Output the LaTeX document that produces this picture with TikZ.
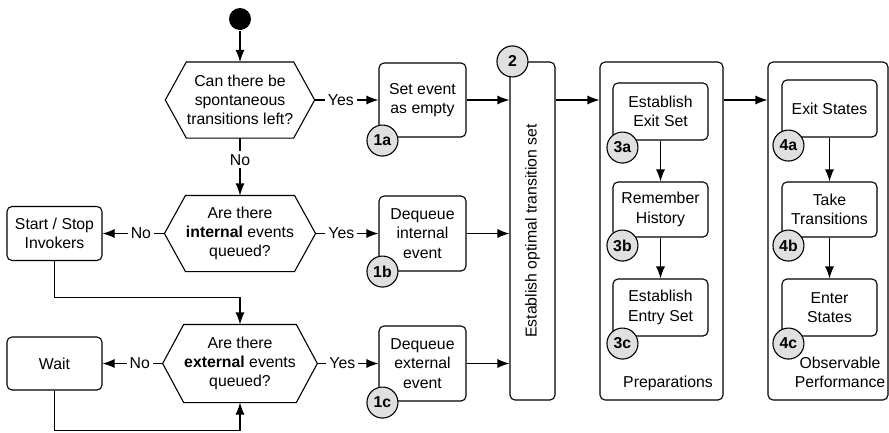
\documentclass[tikz,border=0pt]{standalone}
\usepackage{fontspec}
\setmainfont{Liberation Sans}
\usetikzlibrary{arrows.meta}

% hexagonal decision drawn round a plain text node
\newcommand{\hexq}[1]{%
  \coordinate (#1w) at ([xshift=-21pt]#1.west);
  \coordinate (#1e) at ([xshift=21pt]#1.east);
  \draw (#1w) -- (#1.north west) -- (#1.north east) -- (#1e)
    -- (#1.south east) -- (#1.south west) -- cycle;}

\begin{document}
\begin{tikzpicture}[x=1pt,y=-1pt,line width=1.1pt,
  font=\fontsize{15.8}{19.3}\selectfont,
  >={Latex[length=12pt,width=9pt]},
  q/.style={inner sep=0pt,minimum width=104pt,minimum height=75pt,align=center},
  act/.style={draw,rounded corners=5pt,inner sep=0pt,align=center},
  num/.style={circle,draw,fill=black!12,minimum size=31pt,inner sep=0pt,
    font=\fontsize{15.8}{19.3}\selectfont\bfseries},
  lab/.style={fill=white,inner sep=3pt}]
  \useasboundingbox (0,0) rectangle (889,432);
  % start and the three questions
  \node[circle,fill,minimum size=22pt,inner sep=0pt] (init) at (240,19) {};
  \node[q] (q1) at (240,100) {Can there be\\spontaneous\\transitions left?};
  \node[q] (q2) at (240,233.5) {Are there\\\textbf{internal} events\\queued?};
  \node[q,minimum height=77pt] (q3) at (240,363.5) {Are there\\\textbf{external} events\\queued?};
  \hexq{q1}
  \hexq{q2}
  \hexq{q3}
  % left side
  \node[act,minimum width=95pt,minimum height=54pt] (ss) at (54.5,233.5) {Start / Stop\\Invokers};
  \node[act,minimum width=95pt,minimum height=53pt] (wait) at (54.5,363.5) {Wait};
  % step 1
  \node[act,minimum width=87pt,minimum height=74pt] (a1) at (422.5,100) {Set event\\as empty};
  \node[act,minimum width=87pt,minimum height=75pt] (a2) at (422.5,233.5) {Dequeue\\internal\\event};
  \node[act,minimum width=87pt,minimum height=75pt] (a3) at (422.5,363.5) {Dequeue\\external\\event};
  % step 2
  \node[act,minimum width=45pt,minimum height=338pt] (t) at (532.5,231) {};
  \node[rotate=90] (ttext) at (t.center) {Establish optimal transition set};
  % step 3
  \node[act,minimum width=123pt,minimum height=338pt] (prep) at (661.5,231) {};
  \node[act,minimum width=95pt,minimum height=57pt] (p3a) at (660.5,111.5) {Establish\\Exit Set};
  \node[act,minimum width=95pt,minimum height=55pt] (p3b) at (660.5,209.5) {Remember\\History};
  \node[act,minimum width=95pt,minimum height=57pt] (p3c) at (660.5,307.5) {Establish\\Entry Set};
  \node (preptext) at (668,383) {Preparations};
  % step 4
  \node[act,minimum width=120pt,minimum height=338pt] (perf) at (828,231) {};
  \node[act,minimum width=95pt,minimum height=57pt] (p4a) at (829.5,108.5) {Exit States};
  \node[act,minimum width=95pt,minimum height=55pt] (p4b) at (829.5,209.5) {Take\\Transitions};
  \node[act,minimum width=95pt,minimum height=57pt] (p4c) at (829.5,307.5) {Enter\\States};
  \node[align=center] (perftext) at (840,372) {Observable\\Performance};
  % connectors
  \draw[->] (init) -- (q1.north);
  \draw[->] (q1.south) -- node[lab,pos=0.38] {No} (q2.north);
  \draw[->] (q1e) -- node[lab,pos=0.41] {Yes} (a1.west);
  \draw[->] (q2e) -- node[lab,pos=0.41] {Yes} (a2.west);
  \draw[->] (q3e) -- node[lab,pos=0.41] {Yes} (a3.west);
  \draw[->] (q2w) -- node[lab,pos=0.38] {No} (ss.east);
  \draw[->] (q3w) -- node[lab,pos=0.38] {No} (wait.east);
  \draw[->] (ss.south) -- ++(0,36) -| (q3.north);
  \draw[->] (wait.south) -- ++(0,40) -| (q3.south);
  \draw[->] (a1.east) -- (a1.east -| t.west);
  \draw[->] (a2.east) -- (a2.east -| t.west);
  \draw[->] (a3.east) -- (a3.east -| t.west);
  \draw[->] (t.east |- a1.east) -- (prep.west |- a1.east);
  \draw[->] (prep.east |- a1.east) -- (perf.west |- a1.east);
  \draw[->] (p3a) -- (p3b);
  \draw[->] (p3b) -- (p3c);
  \draw[->] (p4a) -- (p4b);
  \draw[->] (p4b) -- (p4c);
  % step numbers
  \node[num] (n1a) at ([shift={(4,3)}]a1.south west) {1a};
  \node[num] (n1b) at ([shift={(4,0)}]a2.south west) {1b};
  \node[num] (n1c) at ([shift={(4,1)}]a3.south west) {1c};
  \node[num] (n2) at ([shift={(3,0)}]t.north west) {2};
  \node[num] (n3a) at ([shift={(10,7)}]p3a.south west) {3a};
  \node[num] (n3b) at ([shift={(10,8)}]p3b.south west) {3b};
  \node[num] (n3c) at ([shift={(10,7)}]p3c.south west) {3c};
  \node[num] (n4a) at ([shift={(7,8)}]p4a.south west) {4a};
  \node[num] (n4b) at ([shift={(7,8)}]p4b.south west) {4b};
  \node[num] (n4c) at ([shift={(7,7)}]p4c.south west) {4c};
\end{tikzpicture}
\end{document}
